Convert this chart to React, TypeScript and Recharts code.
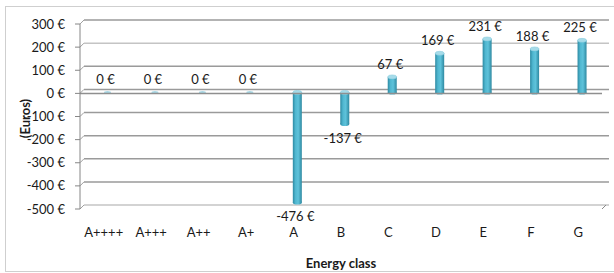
import { BarChart, Bar, XAxis, YAxis, CartesianGrid, LabelList, ReferenceLine } from "recharts";

const energyClasses = ["A++++", "A+++", "A++", "A+", "A", "B", "C", "D", "E", "F", "G"];
const savings = [0, 0, 0, 0, -476, -137, 67, 169, 231, 188, 225];
const yTicks = [-500, -400, -300, -200, -100, 0, 100, 200, 300];

const data = energyClasses.map((name, i) => ({ name, value: savings[i] }));

const FONT = "Lato, 'Open Sans', sans-serif";
const euro = (v: number) => `${v} €`;

// back wall gridlines, pushed up/right a bit like the 3D chart
function WallLine(props: any) {
  const { x1, y1, x2, index } = props;
  const light = yTicks[index] === 200 || yTicks[index] === -500;
  const c = light ? "#c4c4c4" : "#9a9a9a";
  return (
    <g key={`g-${index}`}>
      <line x1={x1} y1={y1} x2={x1 + 4} y2={y1 - 4} stroke="#a0a0a0" strokeWidth={1} />
      <line x1={x1 + 4} y1={y1 - 4} x2={x2 + 7} y2={y1 - 4} stroke={c} strokeWidth={1.5} />
      {yTicks[index] === -500 && (
        <line x1={x2} y1={y1} x2={x2 + 4} y2={y1 - 4} stroke="#8a8a8a" strokeWidth={1} />
      )}
    </g>
  );
}

function Cylinder(props: any) {
  const { x, y, width, height, value } = props;
  const cx = x + width / 2 + 4;
  const top = Math.min(y, y + height) - 1;
  const bottom = Math.max(y, y + height) - 1;
  const rx = width / 2;
  const ry = 2;
  if (!value) {
    return <ellipse cx={cx} cy={top} rx={rx - 1} ry={1.5} fill="#a9d8e6" />;
  }
  return (
    <g>
      <rect x={cx - rx} y={top} width={width} height={bottom - top} fill="url(#cyl)" />
      <ellipse cx={cx} cy={bottom} rx={rx} ry={ry} fill="url(#cyl)" />
      <ellipse cx={cx} cy={top} rx={rx} ry={ry} fill="#a6dbe9" stroke="#7cc6da" strokeWidth={0.5} />
    </g>
  );
}

function ValueLabel(props: any) {
  const { x, y, width, height, value } = props;
  const cx = x + width / 2 + 2;
  const top = Math.min(y, y + height);
  const bottom = Math.max(y, y + height);
  const ty = value >= 0 ? top - 14 : bottom + 13;
  return (
    <text x={cx} y={ty} textAnchor="middle" dominantBaseline="central" fontSize={13} fontFamily={FONT} fill="#1a1a1a">
      {euro(value)}
    </text>
  );
}

function YTitle(props: any) {
  const { viewBox } = props;
  const cx = viewBox.x + 5;
  const cy = viewBox.y + viewBox.height / 2 + 2;
  return (
    <text
      x={cx}
      y={cy}
      transform={`rotate(-90 ${cx} ${cy})`}
      textAnchor="middle"
      dominantBaseline="central"
      fontSize={13}
      fontWeight="bold"
      fontFamily={FONT}
      fill="#1a1a1a"
    >
      (Euros)
    </text>
  );
}

export default function App() {
  return (
    <div style={{ position: "absolute", left: 0, top: 0, width: 614, height: 273, overflow: "hidden", background: "#fff" }}>
      <div
        style={{
          position: "absolute",
          left: 5,
          top: 6,
          width: 620,
          height: 264,
          border: "1px solid #cfcfcf",
        }}
      />
      <div style={{ position: "absolute", left: 0, top: 0 }}>
        <BarChart
          width={614}
          height={273}
          data={data}
          margin={{ top: 24, right: 12, bottom: 0, left: 20 }}
          barSize={9}
        >
          <defs>
            <linearGradient id="cyl" x1="0" y1="0" x2="1" y2="0">
              <stop offset="0%" stopColor="#2d8aa3" />
              <stop offset="30%" stopColor="#50b7d0" />
              <stop offset="60%" stopColor="#5ec2da" />
              <stop offset="100%" stopColor="#2e89a1" />
            </linearGradient>
          </defs>
          <CartesianGrid vertical={false} horizontal={WallLine} />
          <XAxis
            dataKey="name"
            height={64}
            axisLine={false}
            tickLine={false}
            tickMargin={13}
            tick={{ fontSize: 13, fontFamily: FONT, fill: "#1a1a1a" }}
            interval={0}
            label={{
              value: "Energy class",
              position: "insideBottom",
              offset: 5,
              fontSize: 13,
              fontWeight: "bold",
              fontFamily: FONT,
              fill: "#1a1a1a",
            }}
          />
          <YAxis
            width={60}
            domain={[-500, 300]}
            ticks={yTicks}
            tickFormatter={euro}
            tickSize={5}
            tickMargin={10}
            axisLine={{ stroke: "#868686" }}
            tickLine={{ stroke: "#868686" }}
            tick={{ fontSize: 13, fontFamily: FONT, fill: "#1a1a1a" }}
            label={<YTitle />}
          />
          <ReferenceLine y={0} stroke="#8f8f8f" strokeWidth={1.5} />
          <Bar dataKey="value" shape={<Cylinder />} isAnimationActive={false}>
            <LabelList dataKey="value" content={<ValueLabel />} />
          </Bar>
        </BarChart>
      </div>
    </div>
  );
}
